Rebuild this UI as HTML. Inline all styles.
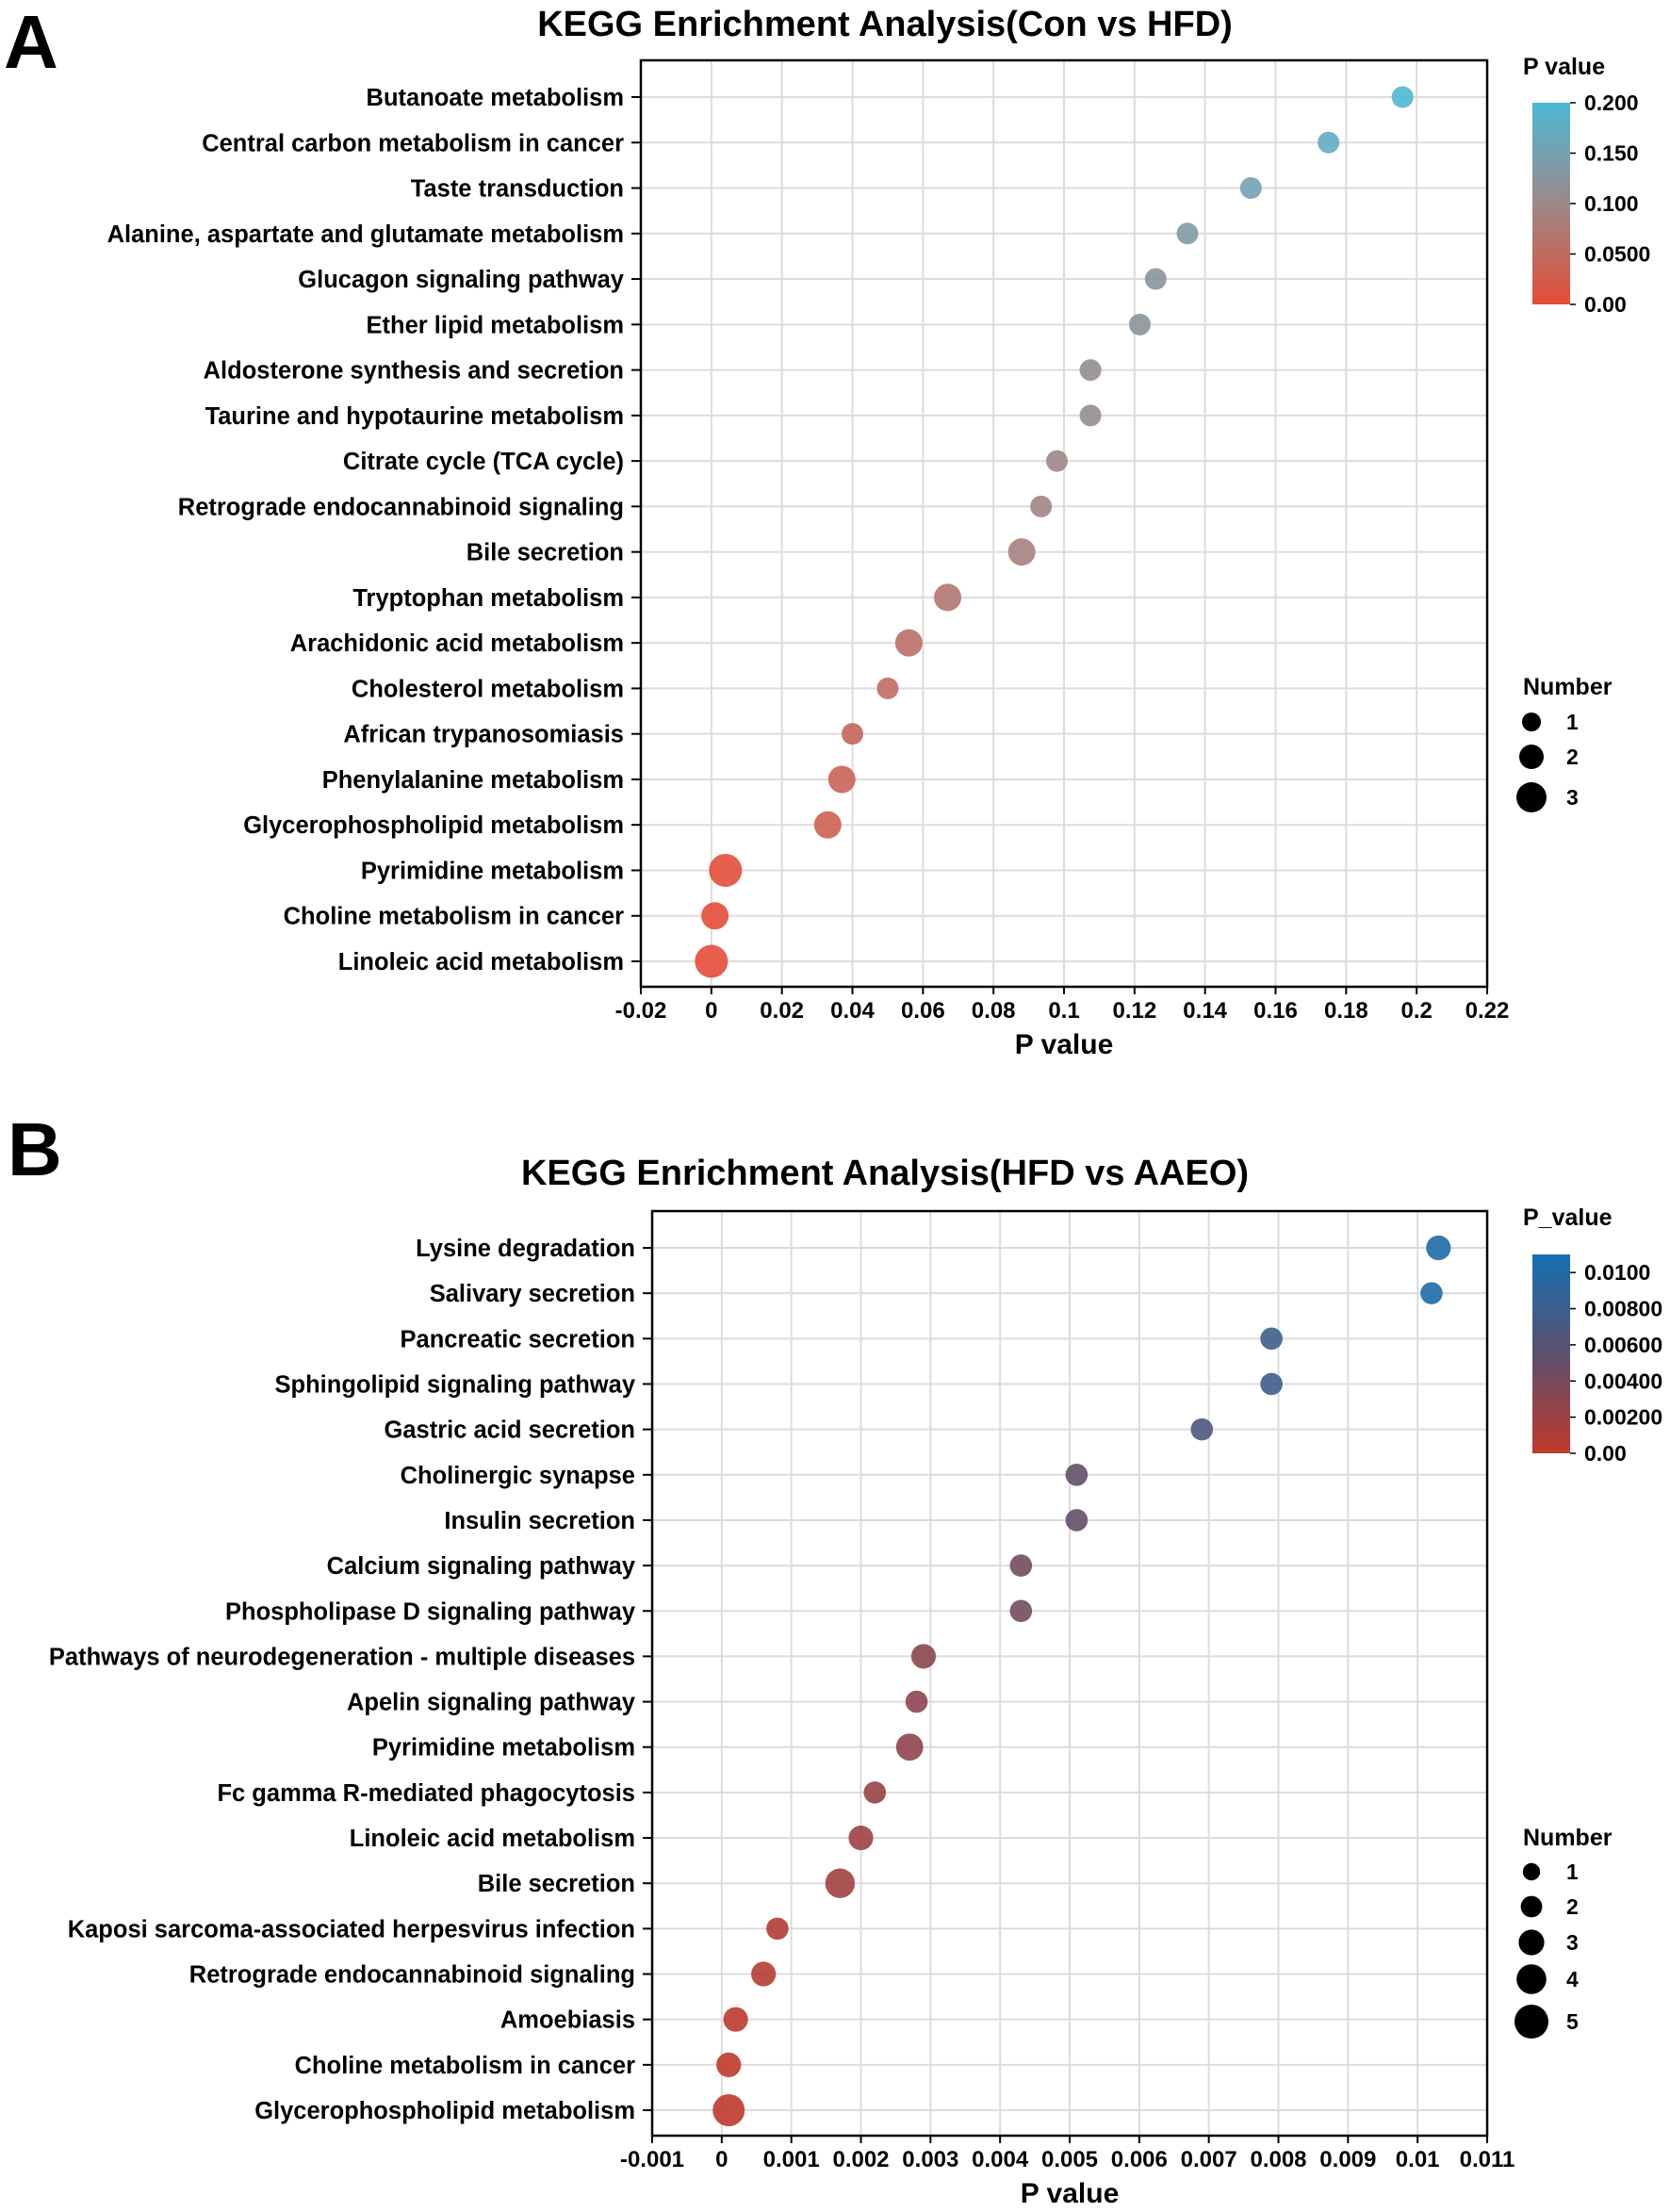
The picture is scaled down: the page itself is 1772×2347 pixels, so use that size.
<!DOCTYPE html>
<html><head><meta charset="utf-8"><style>
body{margin:0;background:#fff;}
svg{display:block;font-family:"Liberation Sans",Arial,sans-serif;font-weight:bold;}
</style></head><body>
<svg id="s" width="1772" height="2347" viewBox="0 0 1772 2347"></svg>
<script>
const catsA=["Butanoate metabolism","Central carbon metabolism in cancer","Taste transduction","Alanine, aspartate and glutamate metabolism","Glucagon signaling pathway","Ether lipid metabolism","Aldosterone synthesis and secretion","Taurine and hypotaurine metabolism","Citrate cycle (TCA cycle)","Retrograde endocannabinoid signaling","Bile secretion","Tryptophan metabolism","Arachidonic acid metabolism","Cholesterol metabolism","African trypanosomiasis","Phenylalanine metabolism","Glycerophospholipid metabolism","Pyrimidine metabolism","Choline metabolism in cancer","Linoleic acid metabolism"];
const pA=[0.196,0.175,0.153,0.135,0.126,0.1215,0.1075,0.1075,0.098,0.0935,0.088,0.067,0.056,0.050,0.040,0.037,0.033,0.004,0.001,0.000];
const nA=[1,1,1,1,1,1,1,1,1,1,2,2,2,1,1,2,2,3,2,3];
const ticksA=["-0.02","0","0.02","0.04","0.06","0.08","0.1","0.12","0.14","0.16","0.18","0.2","0.22"];
const cbTicksA=["0.00","0.0500","0.100","0.150","0.200"];
const cbValsA=[0,0.05,0.1,0.15,0.2];
const legNA=[1,2,3];

const catsB=["Lysine degradation","Salivary secretion","Pancreatic secretion","Sphingolipid signaling pathway","Gastric acid secretion","Cholinergic synapse","Insulin secretion","Calcium signaling pathway","Phospholipase D signaling pathway","Pathways of neurodegeneration - multiple diseases","Apelin signaling pathway","Pyrimidine metabolism","Fc gamma R-mediated phagocytosis","Linoleic acid metabolism","Bile secretion","Kaposi sarcoma-associated herpesvirus infection","Retrograde endocannabinoid signaling","Amoebiasis","Choline metabolism in cancer","Glycerophospholipid metabolism"];
const pB=[0.0103,0.0102,0.0079,0.0079,0.0069,0.0051,0.0051,0.0043,0.0043,0.0029,0.0028,0.0027,0.0022,0.0020,0.0017,0.0008,0.0006,0.0002,0.0001,0.0001];
const nB=[2,1,1,1,1,1,1,1,1,2,1,3,1,2,4,1,2,2,2,5];
const ticksB=["-0.001","0","0.001","0.002","0.003","0.004","0.005","0.006","0.007","0.008","0.009","0.01","0.011"];
const cbTicksB=["0.00","0.00200","0.00400","0.00600","0.00800","0.0100"];
const cbValsB=[0,0.002,0.004,0.006,0.008,0.010];
const legNB=[1,2,3,4,5];

const NS="http://www.w3.org/2000/svg";
const svg=document.getElementById('s');
function el(t,a,txt,parent){const e=document.createElementNS(NS,t);for(const k in a)e.setAttribute(k,a[k]);if(txt!=null)e.textContent=txt;(parent||svg).appendChild(e);return e;}
function lerp(a,b,t){return a.map((v,i)=>Math.round(v+(b[i]-v)*t));}
function grad3(c0,c1,c2,t){t=Math.max(0,Math.min(1,t));return t<0.5?lerp(c0,c1,t*2):lerp(c1,c2,(t-0.5)*2);}
function rgb(c){return `rgb(${c[0]},${c[1]},${c[2]})`;}

function panel(o){
  const g=el('g',{});
  
  
  const x=v=>o.L+(v-o.xmin)/(o.xmax-o.xmin)*(o.R-o.L);
  const n=o.cats.length;
  const y=i=>o.y0+i*(o.y1-o.y0)/(n-1);
  const lt=el('text',{x:o.letterX,y:o.letterY,'font-size':80,'font-weight':'bold'},o.letter,g);
  
  const tt=el('text',{x:939,y:o.titleY,'font-size':38,'text-anchor':'middle'},o.title,g);
  
  o.ticks.forEach((t,i)=>{const xx=x(parseFloat(t));
    const gl=el('line',{x1:xx,x2:xx,y1:o.T,y2:o.B,stroke:'#dcdcdc','stroke-width':2},null,g);
    
    el('line',{x1:xx,x2:xx,y1:o.B,y2:o.B+8,stroke:'#000','stroke-width':2},null,g);
    const tl=el('text',{x:xx,y:o.B+33,'font-size':24,'text-anchor':'middle'},t,g);
    
  });
  o.cats.forEach((c,i)=>{const yy=y(i);
    const gl=el('line',{x1:o.L,x2:o.R,y1:yy,y2:yy,stroke:'#dcdcdc','stroke-width':2},null,g);
    
    el('line',{x1:o.L-10,x2:o.L,y1:yy,y2:yy,stroke:'#000','stroke-width':2},null,g);
    const tl=el('text',{x:o.L-18,y:yy+9,'font-size':25.5,'text-anchor':'end'},c,g);
    
  });
  const fr=el('rect',{x:o.L,y:o.T,width:o.R-o.L,height:o.B-o.T,fill:'none',stroke:'#000','stroke-width':2.5},null,g);
  
  const at=el('text',{x:(o.L+o.R)/2,y:o.B+71,'font-size':30,'text-anchor':'middle'},'P value',g);
  
  o.p.forEach((v,i)=>{
    const c=el('circle',{cx:x(v),cy:y(i),r:o.rad(o.n[i]),fill:rgb(grad3(o.c0,o.c1,o.c2,v/o.cmax)),'fill-opacity':0.9},null,g);
    
  });
  const gid='gr'+o.letter;
  const defs=el('defs',{},null,g);
  const lg=el('linearGradient',{id:gid,x1:0,y1:1,x2:0,y2:0},null,defs);
  el('stop',{offset:0,'stop-color':rgb(o.c0)},null,lg);
  el('stop',{offset:0.5,'stop-color':rgb(o.c1)},null,lg);
  el('stop',{offset:1,'stop-color':rgb(o.c2)},null,lg);
  const cbx=1626,cbw=40;
  const cy=v=>o.cb0-(v/o.cmax)*(o.cb0-o.cb1);
  const cb=el('rect',{x:cbx,y:o.cb1,width:cbw,height:o.cb0-o.cb1,fill:`url(#${gid})`},null,g);
  
  const ct=el('text',{x:1616,y:o.cbTitleY+9,'font-size':25},o.cbTitle,g);
  
  o.cbVals.forEach((v,i)=>{const yy=cy(v);
    el('line',{x1:cbx+cbw,x2:cbx+cbw+6,y1:yy,y2:yy,stroke:'#000','stroke-width':1.5},null,g);
    const tl=el('text',{x:1681,y:yy+8,'font-size':23},o.cbTicks[i],g);
    
  });
  const nt=el('text',{x:1616,y:o.legTitleY+9,'font-size':25},'Number',g);
  
  o.legN.forEach((nn,i)=>{const yy=o.legY[i];
    const lc=el('circle',{cx:1625,cy:yy,r:o.legR(nn),fill:'#000'},null,g);
    
    el('text',{x:1662,y:yy+8,'font-size':23},String(nn),g);
  });
}

panel({name:'panel-a',letter:'A',letterX:4,letterY:72,title:'KEGG Enrichment Analysis(Con vs HFD)',titleY:38,
  L:680,R:1578,T:64,B:1047,y0:103,y1:1020,xmin:-0.02,xmax:0.22,
  cats:catsA,p:pA,n:nA,ticks:ticksA,rad:n=>8.5+3*n,legR:n=>7+3*n,
  c0:[229,76,56],c1:[155,137,138],c2:[76,185,212],cmax:0.2,
  cb0:323,cb1:109,cbTitle:'P value',cbTitleY:70,cbVals:cbValsA,cbTicks:cbTicksA,
  legTitleY:728,legN:legNA,legY:[766,803,846]});

panel({name:'panel-b',letter:'B',letterX:8,letterY:1247,title:'KEGG Enrichment Analysis(HFD vs AAEO)',titleY:1257,
  L:692,R:1578,T:1285,B:2266,y0:1324,y1:2239,xmin:-0.001,xmax:0.011,
  cats:catsB,p:pB,n:nB,ticks:ticksB,rad:n=>10.5+1.3*n,legR:n=>7+2.2*n,
  c0:[192,57,43],c1:[92,80,110],c2:[20,112,178],cmax:0.011,
  cb0:1542,cb1:1331,cbTitle:'P_value',cbTitleY:1291,cbVals:cbValsB,cbTicks:cbTicksB,
  legTitleY:1949,legN:legNB,legY:[1986,2023,2061,2100,2145]});
</script>
</body></html>
